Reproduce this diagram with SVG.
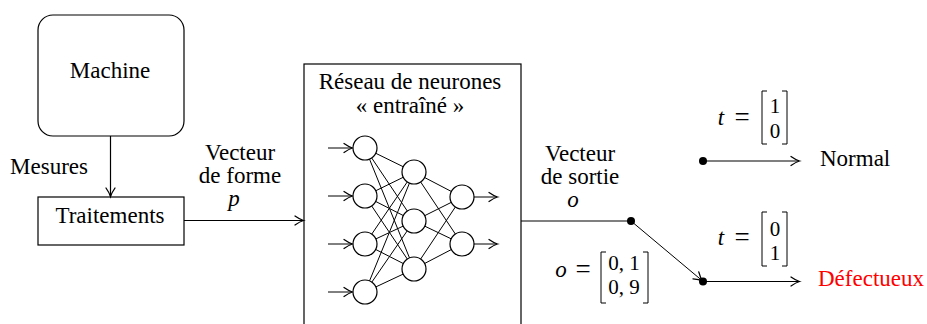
<svg xmlns="http://www.w3.org/2000/svg" width="927" height="324" viewBox="0 0 927 324">
<defs>
<marker id="arr" markerUnits="userSpaceOnUse" markerWidth="14" markerHeight="12" viewBox="-10 -6 12 12" refX="0" refY="0" orient="auto" overflow="visible">
<path d="M -8,-4.5 Q -3,-1 0.5,0 Q -3,1 -8,4.5" fill="none" stroke="#000" stroke-width="1.3" stroke-linecap="round"/>
</marker>
<style>
text{font-family:"Liberation Serif","Times New Roman",serif;font-size:23px;fill:#000}
.it{font-style:italic}
.m{font-size:21px}
.eq{font-size:27px}
.box{fill:none;stroke:#000;stroke-width:1.2}
.ln{fill:none;stroke:#000;stroke-width:1.2}
.nl{stroke:#000;stroke-width:1}
.neu{fill:#fff;stroke:#000;stroke-width:1.2}
.br{fill:none;stroke:#000;stroke-width:1}
</style>
</defs>

<g id="machine">
<rect class="box" x="38" y="15" width="146" height="121" rx="15"/>
<text x="110" y="78" text-anchor="middle">Machine</text>
</g>

<g id="traitements">
<rect class="box" x="38" y="197" width="146" height="48"/>
<text x="110" y="223" text-anchor="middle">Traitements</text>
</g>

<g id="reseau">
<rect class="box" x="304" y="64" width="217" height="280"/>
<text x="410" y="89" text-anchor="middle">Réseau de neurones</text>
<text x="410" y="113" text-anchor="middle">« entraîné »</text>
<g id="nn-links">
<line class="nl" x1="365" y1="148" x2="414" y2="172"/>
<line class="nl" x1="365" y1="148" x2="414" y2="221"/>
<line class="nl" x1="365" y1="148" x2="414" y2="269"/>
<line class="nl" x1="365" y1="196" x2="414" y2="172"/>
<line class="nl" x1="365" y1="196" x2="414" y2="221"/>
<line class="nl" x1="365" y1="196" x2="414" y2="269"/>
<line class="nl" x1="365" y1="244" x2="414" y2="172"/>
<line class="nl" x1="365" y1="244" x2="414" y2="221"/>
<line class="nl" x1="365" y1="244" x2="414" y2="269"/>
<line class="nl" x1="365" y1="292" x2="414" y2="172"/>
<line class="nl" x1="365" y1="292" x2="414" y2="221"/>
<line class="nl" x1="365" y1="292" x2="414" y2="269"/>
<line class="nl" x1="414" y1="172" x2="462" y2="197"/>
<line class="nl" x1="414" y1="172" x2="462" y2="244"/>
<line class="nl" x1="414" y1="221" x2="462" y2="197"/>
<line class="nl" x1="414" y1="221" x2="462" y2="244"/>
<line class="nl" x1="414" y1="269" x2="462" y2="197"/>
<line class="nl" x1="414" y1="269" x2="462" y2="244"/>
</g>
<g id="nn-arrows">
<line class="nl" x1="328" y1="148" x2="352" y2="148" marker-end="url(#arr)"/>
<line class="nl" x1="328" y1="196" x2="352" y2="196" marker-end="url(#arr)"/>
<line class="nl" x1="328" y1="244" x2="352" y2="244" marker-end="url(#arr)"/>
<line class="nl" x1="328" y1="292" x2="352" y2="292" marker-end="url(#arr)"/>
<line class="nl" x1="474" y1="197" x2="497" y2="197" marker-end="url(#arr)"/>
<line class="nl" x1="474" y1="244" x2="497" y2="244" marker-end="url(#arr)"/>
</g>
<g id="neurons">
<circle class="neu" cx="365" cy="148" r="12"/>
<circle class="neu" cx="365" cy="196" r="12"/>
<circle class="neu" cx="365" cy="244" r="12"/>
<circle class="neu" cx="365" cy="292" r="12"/>
<circle class="neu" cx="414" cy="172" r="12"/>
<circle class="neu" cx="414" cy="221" r="12"/>
<circle class="neu" cx="414" cy="269" r="12"/>
<circle class="neu" cx="462" cy="197" r="12"/>
<circle class="neu" cx="462" cy="244" r="12"/>
</g>
</g>

<g id="normal">
<text x="820" y="166">Normal</text>
</g>
<g id="defectueux">
<text x="818" y="286" style="fill:#ff0000">Défectueux</text>
</g>

<g id="connectors">
<line class="ln" x1="110.5" y1="136" x2="110.5" y2="196" marker-end="url(#arr)"/>
<line class="ln" x1="184" y1="220.5" x2="303" y2="220.5" marker-end="url(#arr)"/>
<line class="ln" x1="521" y1="221" x2="631" y2="221"/>
<circle cx="631" cy="221" r="4"/>
<line class="nl" x1="631" y1="221" x2="702" y2="280.5" marker-end="url(#arr)"/>
<circle cx="703" cy="161" r="4"/>
<line class="ln" x1="703" y1="161" x2="799" y2="161" marker-end="url(#arr)"/>
<circle cx="703" cy="281.5" r="4"/>
<line class="ln" x1="703" y1="281.5" x2="799" y2="281.5" marker-end="url(#arr)"/>
</g>

<g id="labels">
<text x="49" y="174" text-anchor="middle">Mesures</text>
<text x="240" y="160" text-anchor="middle">Vecteur</text>
<text x="240" y="183" text-anchor="middle">de forme</text>
<text x="234" y="206" text-anchor="middle" class="it">p</text>
<text x="580" y="161" text-anchor="middle">Vecteur</text>
<text x="580" y="184" text-anchor="middle">de sortie</text>
<text x="573" y="207" text-anchor="middle" class="it">o</text>

<text x="721" y="125" text-anchor="middle" class="it">t</text>
<text x="742" y="126" text-anchor="middle" class="eq">=</text>
<path class="br" d="M767,91 H762 V144 H767 M782,91 H787 V144 H782"/>
<text x="775" y="113" text-anchor="middle" class="m">1</text>
<text x="775" y="138" text-anchor="middle" class="m">0</text>

<text x="721" y="245" text-anchor="middle" class="it">t</text>
<text x="742" y="246" text-anchor="middle" class="eq">=</text>
<path class="br" d="M767,212 H762 V266 H767 M782,212 H787 V266 H782"/>
<text x="775" y="236" text-anchor="middle" class="m">0</text>
<text x="775" y="260" text-anchor="middle" class="m">1</text>

<text x="561" y="277" text-anchor="middle" class="it">o</text>
<text x="583" y="278" text-anchor="middle" class="eq">=</text>
<path class="br" d="M606,252 H601 V303 H606 M643,252 H648 V303 H643"/>
<text x="624" y="270" text-anchor="middle" class="m">0, 1</text>
<text x="624" y="294" text-anchor="middle" class="m">0, 9</text>
</g>
</svg>
